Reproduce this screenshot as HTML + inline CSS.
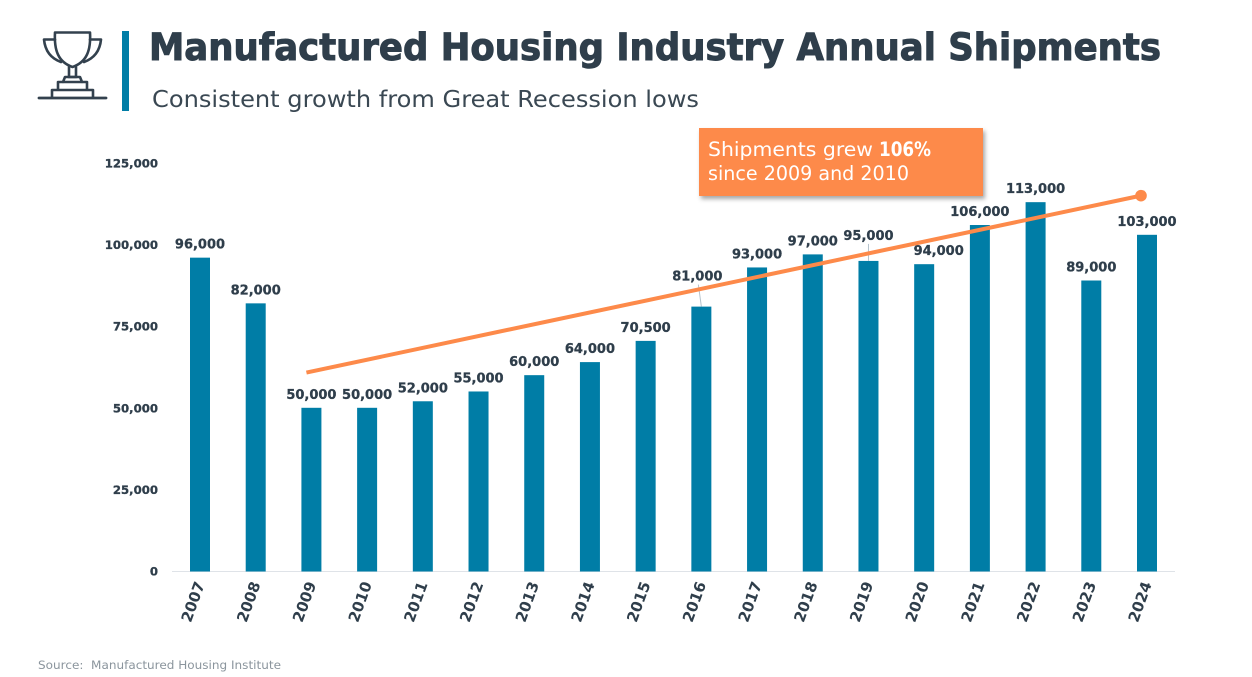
<!DOCTYPE html>
<html lang="en">
<head>
<meta charset="utf-8">
<title>Manufactured Housing Industry Annual Shipments</title>
<style>
html,body{margin:0;padding:0;background:#fff;width:1252px;height:677px;overflow:hidden}
svg{display:block}
text{font-family:"DejaVu Sans","Liberation Sans",sans-serif;fill:#2f3e4b}
.b{font-weight:700}
.thick{stroke:#2f3e4b;stroke-width:.3px}
</style>
</head>
<body>
<svg id="chart" width="1252" height="677" viewBox="0 0 1252 677" xmlns="http://www.w3.org/2000/svg">
  <g fill="none" stroke="#33414e" stroke-width="2.6" stroke-linejoin="round" stroke-linecap="round">
    <path d="M55 32.5H90M55 32.5C54 50 58 62 72.5 67C87 62 91 50 90 32.5"/>
    <path d="M55 39.5H44C45 50 50 58 61 62M90 39.5H101C100 50 95 58 84 62"/>
    <path d="M69 67V77H76V67"/>
    <path d="M63 82L65 77H80L82 82M58 89V82H87V89M52 97V90H93V97"/>
    <path d="M39 98H106" stroke-width="2.8"/>
  </g>
  <rect x="122" y="31" width="7" height="80" fill="#007da6"/>
  <text class="b" x="149" y="60" font-size="37" textLength="1012" lengthAdjust="spacingAndGlyphs" style="stroke:#2f3e4b;stroke-width:1px">Manufactured Housing Industry Annual Shipments</text>
  <text x="152" y="107" font-size="23" textLength="547" lengthAdjust="spacingAndGlyphs" style="fill:#3a4853">Consistent growth from Great Recession lows</text>

  <line x1="172" y1="571.5" x2="1175" y2="571.5" stroke="#dfe3e8" stroke-width="1"/>
  <g id="y-axis"></g>
  <g id="bars"></g>
  <g id="leaders"></g>
  <g id="labels"></g>
  <g id="x-axis"></g>
  <g id="trend"></g>

  <g>
    <rect x="699" y="128" width="284" height="68" fill="#fd8a4a" style="filter:drop-shadow(2px 3px 2px rgba(60,60,60,.45))"/>
    <text y="156" font-size="19.5" style="fill:#fff">
      <tspan x="708" textLength="165" lengthAdjust="spacingAndGlyphs" style="fill:#fff">Shipments grew</tspan>
      <tspan x="879" textLength="52" lengthAdjust="spacingAndGlyphs" class="b" style="fill:#fff">106%</tspan>
    </text>
    <text x="708" y="180" font-size="19.5" textLength="201" lengthAdjust="spacingAndGlyphs" style="fill:#fff">since 2009 and 2010</text>
  </g>

  <text x="38" y="669" font-size="11.5" textLength="243" lengthAdjust="spacingAndGlyphs" xml:space="preserve" style="fill:#8b959d">Source:  Manufactured Housing Institute</text>
</svg>
<script>
const categories = [2007,2008,2009,2010,2011,2012,2013,2014,2015,2016,2017,2018,2019,2020,2021,2022,2023,2024];
const shipments = [96000,82000,50000,50000,52000,55000,60000,64000,70500,81000,93000,97000,95000,94000,106000,113000,89000,103000];
const yTicks = [0,25000,50000,75000,100000,125000];
const trendYears = [2009,2024];
const trendValues = [60800,115000];
const leaderYears = [2016,2019];

const NS = 'http://www.w3.org/2000/svg';
const fmt = v => v.toLocaleString('en-US');
const xScale = year => 200 + (year - 2007) * (1147 - 200) / 17;
const yScale = v => 571 - v * 408 / 125000;
const make = (tag, parent) => { const el = document.createElementNS(NS, tag); parent.appendChild(el); return el; };

const yAxis = document.getElementById('y-axis');
yTicks.forEach(t => {
  const el = make('text', yAxis);
  
  
  el.setAttribute('class', 'b thick');
  el.setAttribute('x', 158);
  el.setAttribute('y', yScale(t) + 4.5);
  el.setAttribute('text-anchor', 'end');
  el.setAttribute('font-size', '11.7');
  el.textContent = fmt(t);
});

const bars = document.getElementById('bars');
const labels = document.getElementById('labels');
const leaders = document.getElementById('leaders');
const xAxis = document.getElementById('x-axis');
categories.forEach((year, i) => {
  const v = shipments[i];
  const cx = xScale(year);
  const top = yScale(v);

  const bar = make('rect', bars);
  
  
  bar.setAttribute('x', cx - 10);
  bar.setAttribute('y', top);
  bar.setAttribute('width', 20);
  bar.setAttribute('height', 571.5 - top);
  bar.setAttribute('fill', '#007da6');

  const hasLeader = leaderYears.includes(year);
  const lift = year === 2016 ? 31 : year === 2019 ? 26 : 14;
  const shift = year === 2016 ? -4 : year === 2020 ? 14.5 : 0;

  if (hasLeader) {
    const ln = make('line', leaders);
    
    
    ln.setAttribute('x1', cx + (year === 2016 ? -3 : 0));
    ln.setAttribute('y1', top - lift + 9);
    ln.setAttribute('x2', cx);
    ln.setAttribute('y2', top);
    ln.setAttribute('stroke', '#b5c3cd');
    ln.setAttribute('stroke-width', '1');
  }

  const lab = make('text', labels);
  
  
  lab.setAttribute('class', 'b thick');
  lab.setAttribute('x', cx + shift);
  lab.setAttribute('y', top - lift + 5);
  lab.setAttribute('text-anchor', 'middle');
  lab.setAttribute('font-size', '13');
  lab.textContent = fmt(v);

  const tick = make('text', xAxis);
  
  
  tick.setAttribute('class', 'b');
  tick.setAttribute('text-anchor', 'end');
  tick.setAttribute('font-size', '15');
  tick.setAttribute('transform', 'translate(' + (cx + 5) + ',584) rotate(-70)');
  tick.textContent = year;
});

const trend = document.getElementById('trend');
const tx0 = xScale(trendYears[0]) - 5, tx1 = xScale(trendYears[1]) - 6;
const tl = make('line', trend);


tl.setAttribute('x1', tx0);
tl.setAttribute('y1', yScale(trendValues[0]));
tl.setAttribute('x2', tx1);
tl.setAttribute('y2', yScale(trendValues[1]));
tl.setAttribute('stroke', '#fd8a4a');
tl.setAttribute('stroke-width', '4');
const dot = make('circle', trend);


dot.setAttribute('cx', tx1);
dot.setAttribute('cy', yScale(trendValues[1]));
dot.setAttribute('r', '5.8');
dot.setAttribute('fill', '#fd8a4a');
</script>
</body>
</html>
